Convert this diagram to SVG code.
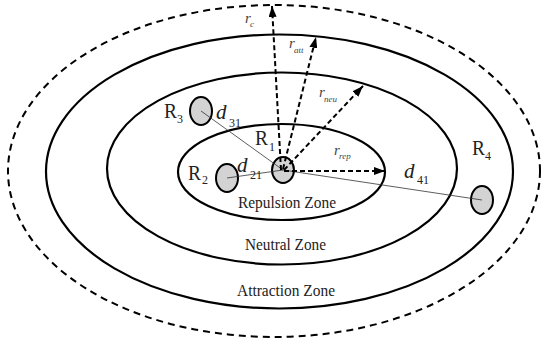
<svg xmlns="http://www.w3.org/2000/svg" width="541" height="347" viewBox="0 0 541 347">
<defs>
<style>
.zone{fill:none;stroke:#000;stroke-width:2.2}
.outer{fill:none;stroke:#000;stroke-width:2;stroke-dasharray:7,5}
.rad{fill:none;stroke:#000;stroke-width:2;stroke-dasharray:5,3}
.dist{stroke:#333;stroke-width:0.8}
.bot{fill:#d3d3d3;stroke:#000;stroke-width:2}
text{font-family:"Liberation Serif","Times New Roman",serif;fill:#222}
.zl{font-size:17px;text-anchor:middle}
.R{font-size:21px}
.Rs{font-size:12px}
.d{font-size:21px;font-style:italic}
.ds{font-size:12px}
.r{font-size:15px;font-style:italic;fill:#444}
.rs{font-size:9px;font-style:italic;fill:#444}
</style>
<marker id="ah" markerUnits="userSpaceOnUse" markerWidth="12" markerHeight="8" refX="11" refY="4" orient="auto">
<path d="M0,0 L11,4 L0,8 z" fill="#000"/>
</marker>
</defs>
<rect width="541" height="347" fill="#fff"/>
<g id="zones">
<ellipse id="outer-zone" class="outer" cx="274" cy="171" rx="266" ry="166"/>
<ellipse id="attraction-zone" class="zone" cx="279.5" cy="171.5" rx="233.5" ry="137"/>
<ellipse id="neutral-zone" class="zone" cx="282" cy="168.5" rx="175" ry="96"/>
<ellipse id="repulsion-zone" class="zone" cx="281.5" cy="172" rx="103.5" ry="48"/>
</g>
<g id="zone-labels">
<text class="zl" x="287" y="208" textLength="98" lengthAdjust="spacingAndGlyphs">Repulsion Zone</text>
<text class="zl" x="285.5" y="250" textLength="81" lengthAdjust="spacingAndGlyphs">Neutral Zone</text>
<text class="zl" x="286" y="296" textLength="98" lengthAdjust="spacingAndGlyphs">Attraction Zone</text>
</g>
<g id="R1"><ellipse class="bot" cx="283" cy="170" rx="11" ry="13"/></g>
<g id="R2"><ellipse class="bot" cx="227" cy="178" rx="11" ry="14"/></g>
<g id="R3"><ellipse class="bot" cx="201" cy="111" rx="11" ry="14"/></g>
<g id="R4"><ellipse class="bot" cx="482" cy="200" rx="11" ry="14"/></g>
<g id="connectors">
<line class="dist" x1="201" y1="111" x2="283" y2="170"/>
<line class="dist" x1="227" y1="178" x2="283" y2="170"/>
<line class="dist" x1="283" y1="170" x2="482" y2="200"/>
<line class="rad" x1="281" y1="170" x2="272" y2="6" marker-end="url(#ah)"/>
<line class="rad" x1="283" y1="169" x2="316" y2="37" marker-end="url(#ah)"/>
<line class="rad" x1="284" y1="170" x2="363" y2="86" marker-end="url(#ah)"/>
<line class="rad" x1="284" y1="171" x2="385" y2="171" marker-end="url(#ah)"/>
</g>
<g id="labels">
<text class="R" x="164" y="118" textLength="13" lengthAdjust="spacingAndGlyphs">R</text><text class="Rs" x="177" y="123">3</text>
<text class="R" x="188" y="180" textLength="13" lengthAdjust="spacingAndGlyphs">R</text><text class="Rs" x="202" y="184">2</text>
<text class="R" x="255" y="145" textLength="13" lengthAdjust="spacingAndGlyphs">R</text><text class="Rs" x="269" y="151">1</text>
<text class="R" x="472" y="155" textLength="13" lengthAdjust="spacingAndGlyphs">R</text><text class="Rs" x="485" y="160">4</text>
<text class="d" x="216" y="119">d</text><text class="ds" x="229" y="127">31</text>
<text class="d" x="237" y="172">d</text><text class="ds" x="250" y="179">21</text>
<text class="d" x="404" y="178">d</text><text class="ds" x="417" y="184">41</text>
<text class="r" x="245" y="23">r</text><text class="rs" x="250" y="27">c</text>
<text class="r" x="289" y="48">r</text><text class="rs" x="294" y="53">att</text>
<text class="r" x="319" y="97">r</text><text class="rs" x="324" y="102">neu</text>
<text class="r" x="334" y="155">r</text><text class="rs" x="339" y="159">rep</text>
</g>
</svg>
